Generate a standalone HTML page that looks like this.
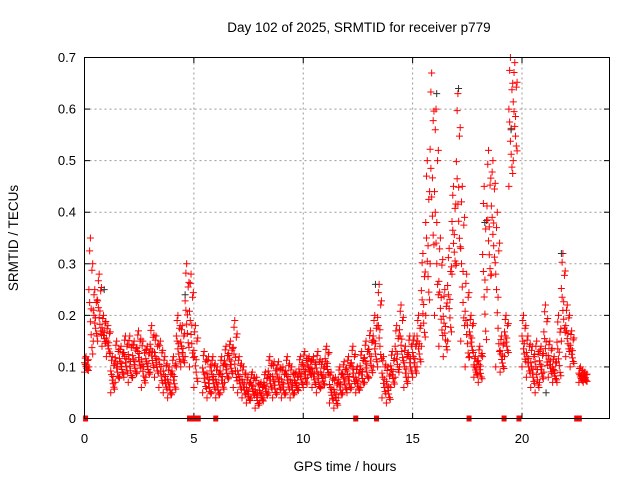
<!DOCTYPE html>
<html><head><meta charset="utf-8"><style>
body{margin:0;background:#fff}
svg{font-family:"Liberation Sans",sans-serif}
</style></head><body>
<svg id="c" width="640" height="480">
<text x="359" y="32" text-anchor="middle" font-size="13.5">Day 102 of 2025, SRMTID for receiver p779</text>
<text x="345" y="471" text-anchor="middle" font-size="13.5">GPS time / hours</text>
<text transform="translate(18,238) rotate(-90)" text-anchor="middle" font-size="13.5">SRMTID / TECUs</text>
<g id="grid"></g><g id="marks"></g>
<rect x="84.5" y="57.5" width="525" height="361" fill="none" stroke="#000"/>
</svg>
<script>
const xTicks=[0,5,10,15,20];
const yTicks=[0,0.1,0.2,0.3,0.4,0.5,0.6,0.7];
const segTimes=[0,0.2,0.4,0.6,0.8,1.0,1.2,1.4,1.6,1.8,2.0,2.2,2.4,2.6,2.8,3.0,3.2,3.4,3.6,3.8,4.0,4.2,4.4,4.6,4.8,5.0,5.4,5.6,5.8,6.0,6.2,6.4,6.6,6.8,7.0,7.2,7.4,7.6,7.8,8.0,8.2,8.4,8.6,8.8,9.0,9.2,9.4,9.6,9.8,10.0,10.2,10.4,10.6,10.8,11.0,11.2,11.4,11.6,11.8,12.0,12.2,12.4,12.6,12.8,13.0,13.2,13.4,13.6,13.8,14.0,14.2,14.4,14.6,14.8,15.0,15.2,15.4,15.6,15.8,16.0,16.2,16.4,16.6,16.8,17.0,17.2,17.4,17.6,17.8,18.0,18.2,18.4,18.6,18.8,19.0,19.2,19.4,19.6,20.0,20.2,20.4,20.6,20.8,21.0,21.2,21.4,21.6,21.8,22.0,22.2,22.6,22.8];
const segLow=[0.09,0.10,0.15,0.15,0.14,0.12,0.05,0.07,0.08,0.08,0.07,0.08,0.09,0.06,0.08,0.09,0.08,0.06,0.05,0.04,0.05,0.10,0.10,0.12,0.10,0.06,0.05,0.04,0.05,0.04,0.05,0.07,0.08,0.06,0.05,0.04,0.03,0.04,0.02,0.03,0.04,0.05,0.04,0.05,0.04,0.05,0.04,0.05,0.06,0.06,0.08,0.06,0.05,0.06,0.08,0.03,0.02,0.04,0.05,0.05,0.06,0.05,0.06,0.07,0.08,0.10,0.10,0.04,0.03,0.06,0.08,0.10,0.06,0.08,0.08,0.10,0.14,0.20,0.30,0.20,0.14,0.12,0.15,0.28,0.30,0.15,0.10,0.12,0.08,0.07,0.12,0.25,0.28,0.10,0.09,0.12,0.45,0.50,0.10,0.08,0.06,0.05,0.07,0.09,0.08,0.07,0.07,0.15,0.12,0.10,0.07,0.07];
const segHigh=[0.12,0.35,0.25,0.28,0.20,0.18,0.12,0.15,0.14,0.16,0.16,0.15,0.17,0.15,0.14,0.18,0.16,0.15,0.12,0.10,0.12,0.20,0.18,0.30,0.28,0.18,0.13,0.12,0.12,0.10,0.12,0.14,0.15,0.19,0.12,0.10,0.08,0.09,0.08,0.07,0.09,0.12,0.11,0.11,0.10,0.12,0.10,0.09,0.12,0.13,0.12,0.12,0.13,0.11,0.14,0.09,0.08,0.10,0.11,0.12,0.14,0.10,0.13,0.15,0.17,0.20,0.26,0.12,0.10,0.13,0.18,0.22,0.14,0.16,0.16,0.20,0.32,0.50,0.67,0.60,0.35,0.25,0.33,0.45,0.63,0.45,0.28,0.20,0.12,0.14,0.45,0.52,0.50,0.40,0.16,0.20,0.70,0.69,0.20,0.16,0.14,0.15,0.14,0.22,0.15,0.12,0.20,0.32,0.22,0.17,0.10,0.09];
const blackT=[0.9,4.6,13.3,16.1,17.1,18.3,19.5,21.8,21.1];
const blackV=[0.25,0.24,0.26,0.63,0.64,0.38,0.56,0.32,0.05];
const zeroT=[0.05,4.8,5.0,5.2,6.0,12.4,13.35,17.58,19.18,19.86,22.5,22.62];
const X0=84.5,XW=525,Y0=418.5,YH=361,XMAX=24,YMAX=0.7;
const sx=t=>X0+t/XMAX*XW, sy=v=>Y0-v/YMAX*YH;
const NS='http://www.w3.org/2000/svg';
const svg=document.getElementById('c'),grid=document.getElementById('grid'),marks=document.getElementById('marks');
function mk(tag,a,p){const e=document.createElementNS(NS,tag);for(const k in a)e.setAttribute(k,a[k]);(p||svg).appendChild(e);return e;}
xTicks.forEach(t=>{const x=sx(t);
 if(t>0){const l=mk('line',{x1:x,x2:x,y1:57.5,y2:418.5,stroke:'#999','stroke-dasharray':'2,3'},grid);
 
 }
 mk('line',{x1:x,x2:x,y1:418.5,y2:413,stroke:'#000'},grid);mk('line',{x1:x,x2:x,y1:57.5,y2:63,stroke:'#000'},grid);
 const tx=mk('text',{x:x,y:443,'text-anchor':'middle','font-size':'13'},grid);tx.textContent=t;
 
 });
yTicks.forEach(v=>{const y=sy(v);
 if(v>0&&v<0.7){const l=mk('line',{x1:84.5,x2:609.5,y1:y,y2:y,stroke:'#999','stroke-dasharray':'2,3'},grid);
 
 }
 mk('line',{x1:84.5,x2:90,y1:y,y2:y,stroke:'#000'},grid);mk('line',{x1:609.5,x2:604,y1:y,y2:y,stroke:'#000'},grid);
 const tx=mk('text',{x:76,y:y+4.5,'text-anchor':'end','font-size':'13'},grid);tx.textContent=v===0?'0':v.toFixed(1);
 
 });
function cross(t,v,col){const x=sx(t),y=sy(v);
 const p=mk('path',{d:`M${x-3.5},${y}h7M${x},${y-3.5}v7`,stroke:col,'stroke-width':1,fill:'none'},marks);
 return p;}
const fr=[0,0.5,1,0.25,0.75,0.1,0.6,0.9,0.35,0.45,0.15,0.8];
segTimes.forEach((t,i)=>{fr.forEach((f,j)=>{const tt=t+(j%6)*0.035;
 const v=segLow[i]+(segHigh[i]-segLow[i])*f;
 const p=cross(tt,v,'#f00');
 
 });});
blackT.forEach((t,i)=>{const p=cross(t,blackV[i],'#333');
 
 });
zeroT.forEach(t=>{const r=mk('rect',{x:sx(t)-2.5,y:sy(0)-3,width:5,height:6,fill:'#f00'},marks);
 
 });
</script>
</body></html>
